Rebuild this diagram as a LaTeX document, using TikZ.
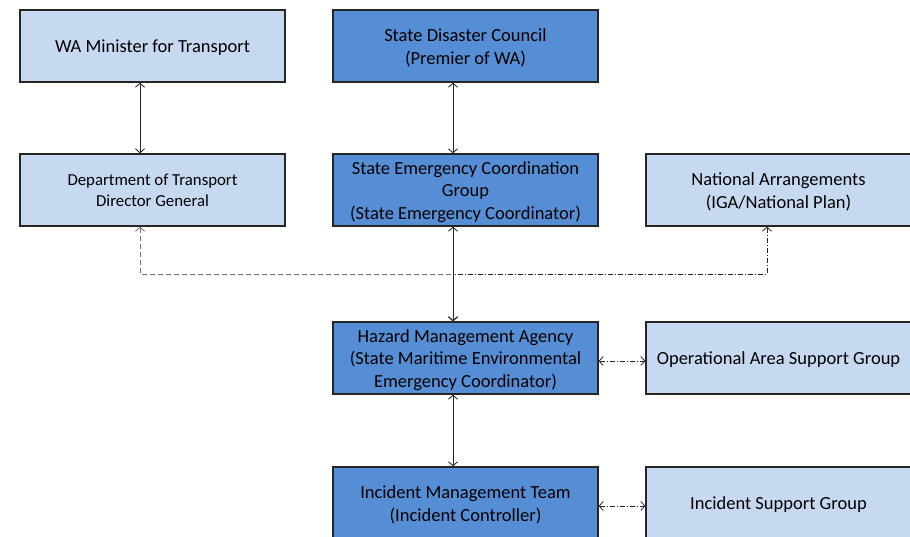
\documentclass[tikz,border=0pt]{standalone}
\usepackage{fontspec}
\setmainfont{Carlito}
\usetikzlibrary{arrows.meta}
\definecolor{lightbox}{HTML}{C6D9F1}
\definecolor{darkbox}{HTML}{558ED5}
\definecolor{edge}{HTML}{262626}
\begin{document}
\begin{tikzpicture}[x=1pt,y=1pt,
  box/.style={draw=edge,line width=1.3pt,minimum width=265pt,minimum height=72pt,inner sep=0pt},
  lbox/.style={box,fill=lightbox},
  dbox/.style={box,fill=darkbox},
  lab/.style={align=center,font=\fontsize{18.5}{22.5}\selectfont,text=black,inner sep=0pt,yshift=-1.8pt},
  slab/.style={lab,font=\fontsize{16.8}{21}\selectfont,yshift=1.2pt},
  tip/.style={{Straight Barb[length=4pt,width=9pt]}-{Straight Barb[length=4pt,width=9pt]}},
  conn/.style={tip,line width=0.9pt,draw=edge},
  dconn/.style={tip,line width=0.9pt,draw=black!55,dash pattern=on 5pt off 3pt},
  ddconn/.style={tip,line width=0.8pt,draw=edge,dash pattern=on 5pt off 2pt on 1pt off 2pt}]
\useasboundingbox (0,0) rectangle (910,-537);
\node[lbox,label={[lab]center:{WA Minister for Transport}}] (wa) at (152.5,-46) {};
\node[dbox,label={[lab]center:{State Disaster Council\\(Premier of WA)}}] (sdc) at (465.5,-46) {};
\node[lbox,label={[slab]center:{Department of Transport\\Director General}}] (dot) at (152.5,-190) {};
\node[dbox,label={[lab]center:{State Emergency Coordination\\Group\\(State Emergency Coordinator)}}] (secg) at (465.5,-190) {};
\node[lbox,label={[lab]center:{National Arrangements\\(IGA/National Plan)}}] (nat) at (778.5,-190) {};
\node[dbox,label={[lab]center:{Hazard Management Agency\\(State Maritime Environmental\\Emergency Coordinator)}}] (hma) at (465.5,-358) {};
\node[lbox,label={[lab]center:{Operational Area Support Group}}] (oasg) at (778.5,-358) {};
\node[dbox,label={[lab]center:{Incident Management Team\\(Incident Controller)}}] (imt) at (465.5,-503) {};
\node[lbox,label={[lab]center:{Incident Support Group}}] (isg) at (778.5,-503) {};
\coordinate (c1) at (140,-274);
\coordinate (c2) at (453,-274);
\coordinate (c3) at (767,-274);
\draw[dconn] ([xshift=-12.5pt]dot.south) -- (c1) -- (c2) -- ([xshift=-12.5pt]hma.north);
\draw[ddconn] ([xshift=-11.5pt]nat.south) -- (c3) -- (c2) -- ([xshift=-12.5pt]hma.north);
\draw[conn] ([xshift=-12.5pt]wa.south) -- ([xshift=-12.5pt]dot.north);
\draw[conn] ([xshift=-12.5pt]sdc.south) -- ([xshift=-12.5pt]secg.north);
\draw[conn] ([xshift=-12.5pt]secg.south) -- ([xshift=-12.5pt]hma.north);
\draw[conn] ([xshift=-12.5pt]hma.south) -- ([xshift=-12.5pt]imt.north);
\draw[ddconn] ([yshift=-3pt]hma.east) -- ([yshift=-3pt]oasg.west);
\draw[ddconn] ([yshift=-3pt]imt.east) -- ([yshift=-3pt]isg.west);
\end{tikzpicture}
\end{document}
